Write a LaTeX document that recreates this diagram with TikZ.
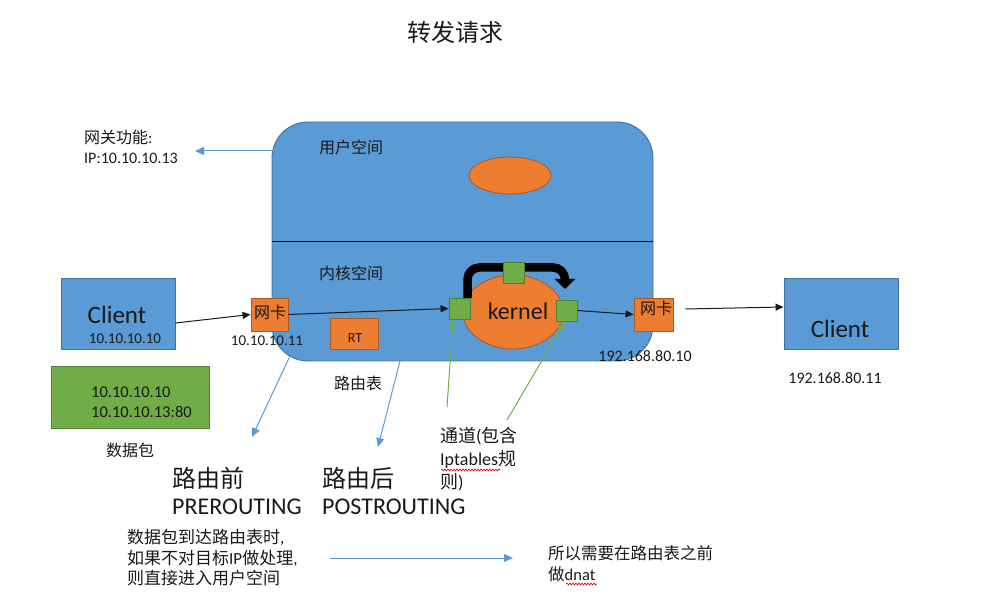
\documentclass[tikz,border=0pt]{standalone}
\usepackage{fontspec}
\setmainfont{Carlito}
\newfontfamily\cj{Noto Sans CJK SC}
\usetikzlibrary{arrows.meta,decorations.pathmorphing,shapes.geometric}
\definecolor{bfill}{HTML}{5B9BD5}
\definecolor{bstroke}{HTML}{41719C}
\definecolor{ofill}{HTML}{ED7D31}
\definecolor{ostroke}{HTML}{AE5A21}
\definecolor{gfill}{HTML}{70AD47}
\definecolor{gstroke}{HTML}{507E32}
\newcommand\fs[1]{\fontsize{#1}{#1}\selectfont}
\newcommand\zh[1]{{\cj #1}}
\tikzset{
  bluebox/.style={draw=bstroke, fill=bfill, line width=0.9pt, inner sep=0pt},
  orangebox/.style={draw=ostroke, fill=ofill, line width=0.9pt, inner sep=0pt},
  greenbox/.style={draw=gstroke, fill=gfill, line width=0.9pt, inner sep=0pt},
  txt/.style={inner sep=0pt, text=black!90},
  blackarrow/.style={draw=black!90, line width=1pt, -{Triangle[length=8pt,width=7pt]}},
  bluearrow/.style={draw=bfill, line width=1pt, -{Triangle[length=9pt,width=8pt]}},
  greenarrow/.style={draw=gfill, line width=1pt, -{Triangle[length=9pt,width=7pt]}},
  squiggle/.style={draw=red!85!black, line width=0.6pt, decorate, decoration={snake, amplitude=1pt, segment length=3pt}},
}
\begin{document}
\begin{tikzpicture}[x=1pt, y=-1pt]
\path[use as bounding box] (0,0) rectangle (993,609);

% title
\node[txt, font=\cj\fs{24}] (title) at (455,32) {转发请求};

% system box
\node[bluebox, rounded corners=36pt, minimum width=381pt, minimum height=239pt] (sys) at (462.5,241.5) {};
\draw[line width=1pt] (sys.west) -- (sys.east);
\node[txt, font=\cj\fs{16}] (user) at (351,147) {用户空间};
\node[txt, font=\cj\fs{16}] (kspace) at (351,273) {内核空间};
\node[orangebox, ellipse, minimum width=82pt, minimum height=37pt] (proc) at (510,175.5) {};
\node[orangebox, ellipse, minimum width=100pt, minimum height=74pt] (kern) at (513,312) {};
\node[txt, font=\fs{24}] (kernt) at (518,311) {kernel};

% thick hook arrow
\draw[line width=8.5pt, rounded corners=12pt, -{Triangle[length=10pt,width=20pt]}]
  (467.5,298) -- (467.5,267.5) -- (565,267.5) -- (565,289);

% green squares
\node[greenbox, minimum width=21pt, minimum height=21pt] (sq1) at (459.5,308.5) {};
\node[greenbox, minimum width=21pt, minimum height=21pt] (sq2) at (566.5,310.5) {};
\node[greenbox, minimum width=21pt, minimum height=21pt] (sq3) at (513.5,272.5) {};

% RT
\node[orangebox, minimum width=48pt, minimum height=31pt] (rt) at (354,333.5) {};
\node[txt, font=\fs{14}] (rtt) at (355,338) {RT};

% NICs
\node[orangebox, minimum width=37pt, minimum height=33pt] (nic1) at (269.5,314.5) {};
\node[txt, font=\cj\fs{16}] (nic1t) at (270,312) {网卡};
\node[txt, font=\fs{15}] (nic1ip) at (267,341) {10.10.10.11};
\node[orangebox, minimum width=39pt, minimum height=33pt] (nic2) at (653.5,314.5) {};
\node[txt, font=\cj\fs{16}] (nic2t) at (656,308) {网卡};
\node[txt, font=\fs{16}] (nic2ip) at (645,356) {192.168.80.10};

% clients
\node[bluebox, minimum width=114pt, minimum height=71pt] (c1) at (118,313.5) {};
\node[txt, font=\fs{25}] (c1t) at (117,315) {Client};
\node[txt, font=\fs{15}] (c1ip) at (125,339) {10.10.10.10};
\node[bluebox, minimum width=114pt, minimum height=71pt] (c2) at (841,313.5) {};
\node[txt, font=\fs{25}] (c2t) at (840,329) {Client};
\node[txt, font=\fs{16}] (c2ip) at (835,378) {192.168.80.11};

% packet
\node[greenbox, minimum width=158pt, minimum height=62pt] (pkt) at (130,397) {};
\node[txt, anchor=west, font=\fs{16.5}] (pkt1) at (91,392) {10.10.10.10};
\node[txt, anchor=west, font=\fs{16.5}] (pkt2) at (91,412) {10.10.10.13:80};
\node[txt, font=\cj\fs{16}] (pktl) at (130,450) {数据包};

% gateway
\node[txt, anchor=west, font=\fs{16}] (gw1) at (84,137) {\zh{网关功能}:};
\node[txt, anchor=west, font=\fs{16}] (gw2) at (84,158) {IP:10.10.10.13};
\coordinate (gwsrc) at (273.5,151);
\coordinate (gwdst) at (195,151);
\draw[bluearrow] (gwsrc) -- (gwdst);

% black flow arrows
\draw[blackarrow] ([yshift=-9.5pt]c1.east) -- (nic1.west);
\draw[blackarrow] (nic1.east) -- (sq1.west);
\draw[blackarrow] (sq2.east) -- (nic2.west);
\draw[blackarrow] ([xshift=12pt,yshift=5.5pt]nic2.east) -- ([yshift=6.5pt]c2.west);

% blue pointers
\coordinate (pre0) at (290,356);
\coordinate (pre1) at (252,437);
\draw[bluearrow] (pre0) -- (pre1);
\coordinate (post0) at (400,361);
\coordinate (post1) at (378,447);
\draw[bluearrow] (post0) -- (post1);
\node[txt, font=\cj\fs{16}] (rtl) at (358,383) {路由表};

% green pointers
\coordinate (ch1) at (447,407);
\coordinate (ch2) at (507,420);
\draw[greenarrow] (ch1) -- ([xshift=-6.5pt]sq1.south);
\draw[greenarrow] (ch2) -- ([xshift=-1.5pt]sq2.south);
\node[txt, anchor=west, font=\fs{18}] (chl1) at (440,436) {\zh{通道}(\zh{包含}};
\node[txt, anchor=west, font=\fs{18}] (chl2) at (440,459) {Iptables\zh{规}};
\node[txt, anchor=west, font=\fs{18}] (chl3) at (440,482) {\zh{则})};
\draw[squiggle] (441,470) -- (500,470);

% PRE / POST routing labels
\node[txt, anchor=west, font=\cj\fs{24}] (pre) at (172,478) {路由前};
\node[txt, anchor=west, font=\fs{24}] (preen) at (172,507) {PREROUTING};
\node[txt, anchor=west, font=\cj\fs{24}] (post) at (322,478) {路由后};
\node[txt, anchor=west, font=\fs{24}] (posten) at (322,507) {POSTROUTING};

% bottom notes
\node[txt, anchor=west, font=\fs{17}] (n1) at (127,537) {\zh{数据包到达路由表时},};
\node[txt, anchor=west, font=\fs{17}] (n2) at (127,558) {\zh{如果不对目标}IP\zh{做处理},};
\node[txt, anchor=west, font=\fs{17}] (n3) at (127,578) {\zh{则直接进入用户空间}};
\coordinate (b0) at (330,558);
\coordinate (b1) at (513,558);
\draw[bluearrow] (b0) -- (b1);
\node[txt, anchor=west, font=\fs{16.5}] (m1) at (548,553) {\zh{所以需要在路由表之前}};
\node[txt, anchor=west, font=\fs{16.5}] (m2) at (548,574) {\zh{做}dnat};
\draw[squiggle] (566,584) -- (597,584);
\end{tikzpicture}
\end{document}
